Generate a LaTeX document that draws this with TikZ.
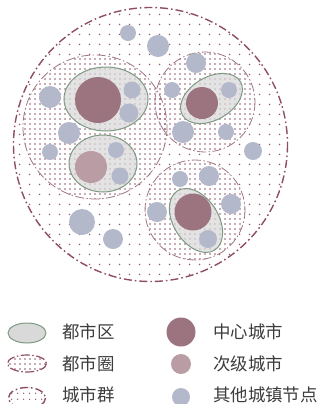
\documentclass[tikz,border=0pt]{standalone}
\usepackage{fontspec}
\newfontfamily\cjk{Noto Sans CJK SC}
\usetikzlibrary{patterns.meta}
\definecolor{dotc}{HTML}{935A6E}
\definecolor{outerc}{HTML}{8E4D61}
\definecolor{metroc}{HTML}{A07685}
\definecolor{areafill}{HTML}{D9D9DA}
\definecolor{areadraw}{HTML}{7F9A84}
\definecolor{corec}{HTML}{9B7480}
\definecolor{secc}{HTML}{BA9CA5}
\definecolor{otherc}{HTML}{B3B8CB}
\definecolor{txtc}{HTML}{3C3C3C}
\tikzset{
  groupring/.style={draw=outerc, line width=1.4bp, dash pattern=on 8bp off 3bp on 1.6bp off 3bp,
    pattern={Dots[radius=0.9bp, distance=10bp, angle=0]}, pattern color=dotc},
  metroring/.style={draw=metroc, line width=0.8bp, dash pattern=on 9bp off 2.5bp on 1.5bp off 2.5bp,
    pattern={Dots[radius=0.9bp, distance=5bp]}, pattern color=dotc},
  area/.style={draw=areadraw, line width=1bp, fill=areafill, fill opacity=0.72},
  corecity/.style={fill=corec},
  seccity/.style={fill=secc},
  othercity/.style={fill=otherc},
  legtext/.style={anchor=west, text=txtc, font=\cjk\fontsize{17.5}{19}\selectfont, inner sep=0pt}
}
\begin{document}
\begin{tikzpicture}[x=1bp,y=-1bp]
\useasboundingbox (0,0) rectangle (324,404);
% urban agglomeration (outer)
\draw[groupring] (150.5,144.5) circle (137);
% metropolitan circles
\fill[white] (95,127) circle (72);
\fill[white] (205,102) circle (50);
\fill[white] (195,210) circle (50);
\draw[metroring] (95,127) circle (72);
\draw[metroring] (205,102) circle (50);
\draw[metroring] (195,210) circle (50);
% metropolitan areas
\draw[area] (106,99) ellipse [x radius=42, y radius=32];
\draw[area] (103,163.5) ellipse [x radius=34, y radius=28.5];
\draw[area, rotate around={30:(211.5,98.5)}] (211.5,98.5) ellipse [x radius=33.5, y radius=21.5];
\draw[area, rotate around={-58:(196,220.5)}] (196,220.5) ellipse [x radius=35, y radius=22.5];
% core cities
\fill[corecity] (98,100) circle (23);
\fill[corecity] (202,103) circle (16);
\fill[corecity] (193,212) circle (18.5);
% secondary city
\fill[seccity] (91,167) circle (16);
% other nodes
\foreach \x/\y/\r in {128/33/8, 158/46/11, 196/63/10, 50/97/11, 132/90/8.5, 129/113/9.5,
  172/90/8, 229/90/8, 69/133/11, 183/132/11, 226/132/8, 50/152/8, 116/150/8, 253/151/9,
  120/176/8.5, 180/179/8, 209/176/10, 231/204/10, 157/212/10, 82/222/13, 113/239/10, 208/239/9}
  \fill[othercity] (\x,\y) circle (\r);
% legend
\draw[area, fill opacity=1] (27,333) ellipse [x radius=19, y radius=10];
\node[legtext] (l1) at (62,332) {都市区};
\fill[white] (27,363.5) ellipse [x radius=19.5, y radius=8.5];
\draw[metroring, line width=1.2bp, draw=outerc] (27,363.5) ellipse [x radius=19.5, y radius=8.5];
\node[legtext] (l2) at (62,363.5) {都市圈};
\draw[groupring, pattern={Dots[radius=0.8bp, distance=6bp]}] (27,398) ellipse [x radius=18.5, y radius=10.5];
\node[legtext] (l3) at (62,395) {城市群};
\fill[corecity] (181,332) circle (14.5);
\node[legtext] (l4) at (213,332) {中心城市};
\fill[seccity] (181,364) circle (10);
\node[legtext] (l5) at (213,363.5) {次级城市};
\fill[othercity] (181,397) circle (9);
\node[legtext] (l6) at (213,395) {其他城镇节点};
\end{tikzpicture}
\end{document}
